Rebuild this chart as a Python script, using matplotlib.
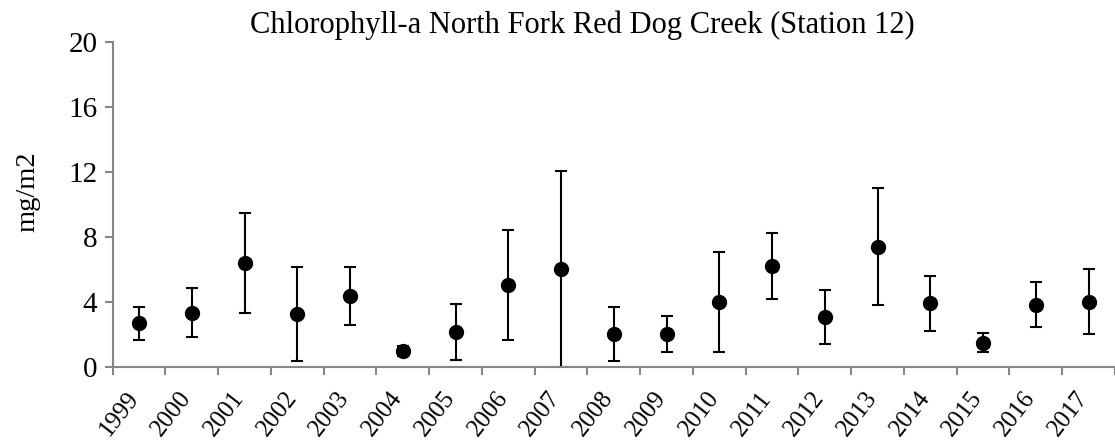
import matplotlib
matplotlib.use("Agg")
import matplotlib.pyplot as plt
import matplotlib.transforms as mtransforms
import numpy as np

years = ["1999", "2000", "2001", "2002", "2003", "2004", "2005", "2006", "2007", "2008",
         "2009", "2010", "2011", "2012", "2013", "2014", "2015", "2016", "2017"]
means = [2.70, 3.35, 6.39, 3.29, 4.38, 1.00, 2.17, 5.06, 6.02, 2.05,
         2.05, 4.03, 6.22, 3.07, 7.41, 3.93, 1.51, 3.83, 4.03]
errors = [1.00, 1.50, 3.06, 2.88, 1.77, 0.30, 1.72, 3.40, 6.02, 1.68,
          1.10, 3.07, 2.00, 1.65, 3.59, 1.70, 0.60, 1.38, 2.00]
yticks = [0, 4, 8, 12, 16, 20]

plt.rcParams['font.family'] = ['Liberation Serif', 'DejaVu Serif']

fig = plt.figure(figsize=(11.15, 4.46), dpi=100)
ax = fig.add_axes([0.101, 0.1765, 0.899, 0.73])

x = np.arange(len(years))
ax.errorbar(x, means, yerr=errors, fmt='o', color='black', ecolor='black',
            markersize=10, elinewidth=1.5, capsize=4.5, capthick=1.5)

ax.set_xlim(-0.5, len(years) - 0.5)
ax.set_ylim(0, 20)
ax.set_yticks(yticks)
ax.set_yticklabels([str(v) for v in yticks], fontsize=21)

ax.set_xticks(x)
ax.set_xticklabels(years, fontsize=18, rotation=52, ha='right', va='baseline',
                   rotation_mode='anchor')
offset = mtransforms.ScaledTranslation(4 / 100, 0, fig.dpi_scale_trans)
for lbl in ax.get_xticklabels():
    lbl.set_transform(lbl.get_transform() + offset)
ax.set_xticks(np.arange(-0.5, len(years), 1.0), minor=True)
ax.tick_params(axis='x', which='major', length=0, pad=22)
ax.tick_params(axis='x', which='minor', length=6, width=1.5, color='#868686')
ax.tick_params(axis='y', length=6, width=1.5, color='#868686', pad=5)

for s in ['top', 'right']:
    ax.spines[s].set_visible(False)
for s in ['left', 'bottom']:
    ax.spines[s].set_color('#868686')
    ax.spines[s].set_linewidth(1.5)

ax.set_ylabel('mg/m2', fontsize=20.5)
ax.yaxis.set_label_coords(-0.072, 0.538)
ax.set_title('Chlorophyll-a North Fork Red Dog Creek (Station 12)', fontsize=22,
             pad=6, x=0.469)

fig.savefig('out.png', dpi=100)
